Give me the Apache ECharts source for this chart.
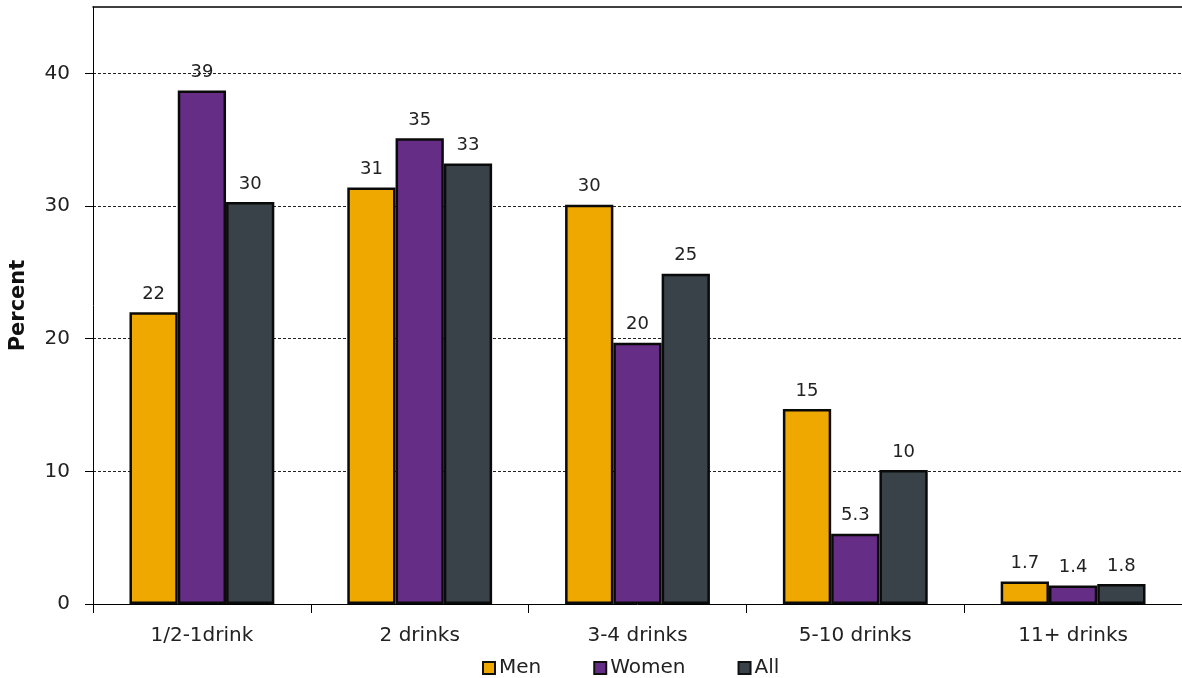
<!DOCTYPE html>
<html>
<head>
<meta charset="utf-8">
<script src="https://cdn.jsdelivr.net/npm/echarts@6/dist/echarts.min.js"></script>
<style>
  html, body { margin: 0; padding: 0; background: #fff; }
  #chart { width: 1182px; height: 678px; }
</style>
</head>
<body>
<div id="chart"></div>
<script>
// categories and values
var categories = ['1/2-1drink', '2 drinks', '3-4 drinks', '5-10 drinks', '11+ drinks'];
var seriesNames = ['Men', 'Women', 'All'];
var menValues = [22.0, 31.4, 30.1, 14.7, 1.7];
var womenValues = [38.7, 35.1, 19.7, 5.3, 1.4];
var allValues = [30.3, 33.2, 24.9, 10.1, 1.5];
// printed labels above the bars
var menLabels = ['22', '31', '30', '15', '1.7'];
var womenLabels = ['39', '35', '20', '5.3', '1.4'];
var allLabels = ['30', '33', '25', '10', '1.8'];
var yTicks = [0, 10, 20, 30, 40];

var colors = ['#EEA800', '#652D86', '#394249'];
var font = 'DejaVu Sans';

var makeSeries = function(name, values, labels, color) {
    return {
        name: name,
        type: 'bar',
        data: values,
        barGap: '0%',
        barCategoryGap: '33.5%',
        itemStyle: {
            color: color,
            borderColor: '#0a0a0a',
            borderWidth: 2.5
        },
        label: {
            show: true,
            position: 'top',
            distance: 9,
            fontFamily: font,
            fontSize: 18,
            color: '#222',
            formatter: function(p) {
                return labels[p.dataIndex];
            }
        }
    };
};

var myChart = echarts.init(document.getElementById('chart'));
myChart.setOption({
    animation: false,
    backgroundColor: '#fff',
    textStyle: { fontFamily: font },
    grid: {
        left: 93,
        right: 0,
        top: 7,
        bottom: 74
    },
    legend: {
        data: seriesNames,
        left: 477,
        top: 653,
        itemWidth: 12,
        itemHeight: 12,
        itemGap: 52,
        icon: 'rect',
        itemStyle: { borderColor: '#111', borderWidth: 2 },
        textStyle: { fontFamily: font, fontSize: 20, color: '#222', padding: [0, 0, 0, -1] }
    },
    xAxis: [{
        type: 'category',
        data: categories,
        axisLine: { lineStyle: { color: '#000', width: 1 } },
        axisTick: { show: true, length: 9, lineStyle: { color: '#000' } },
        axisLabel: {
            margin: 22,
            fontFamily: font,
            fontSize: 20,
            color: '#222'
        },
        splitLine: { show: false }
    }, {
        // top frame line only
        type: 'category',
        position: 'top',
        data: categories,
        axisLine: { show: true, lineStyle: { color: '#000', width: 1.5 } },
        axisTick: { show: false },
        axisLabel: { show: false },
        splitLine: { show: false }
    }],
    yAxis: {
        type: 'value',
        min: 0,
        max: 45,
        interval: 10,
        name: 'Percent',
        nameLocation: 'middle',
        nameGap: 64,
        nameRotate: 90,
        nameTextStyle: { fontFamily: font, fontSize: 21, fontWeight: 'bold', color: '#111' },
        axisLine: { show: true, lineStyle: { color: '#000', width: 1 } },
        axisTick: { show: true, length: 8, customValues: yTicks, lineStyle: { color: '#000' } },
        axisLabel: {
            margin: 23,
            customValues: yTicks,
            fontFamily: font,
            fontSize: 20,
            color: '#222'
        },
        splitLine: {
            show: true,
            lineStyle: { color: '#222', type: [3, 2], width: 1 }
        }
    },
    series: [
        makeSeries(seriesNames[0], menValues, menLabels, colors[0]),
        makeSeries(seriesNames[1], womenValues, womenLabels, colors[1]),
        makeSeries(seriesNames[2], allValues, allLabels, colors[2])
    ]
});
</script>
</body>
</html>
